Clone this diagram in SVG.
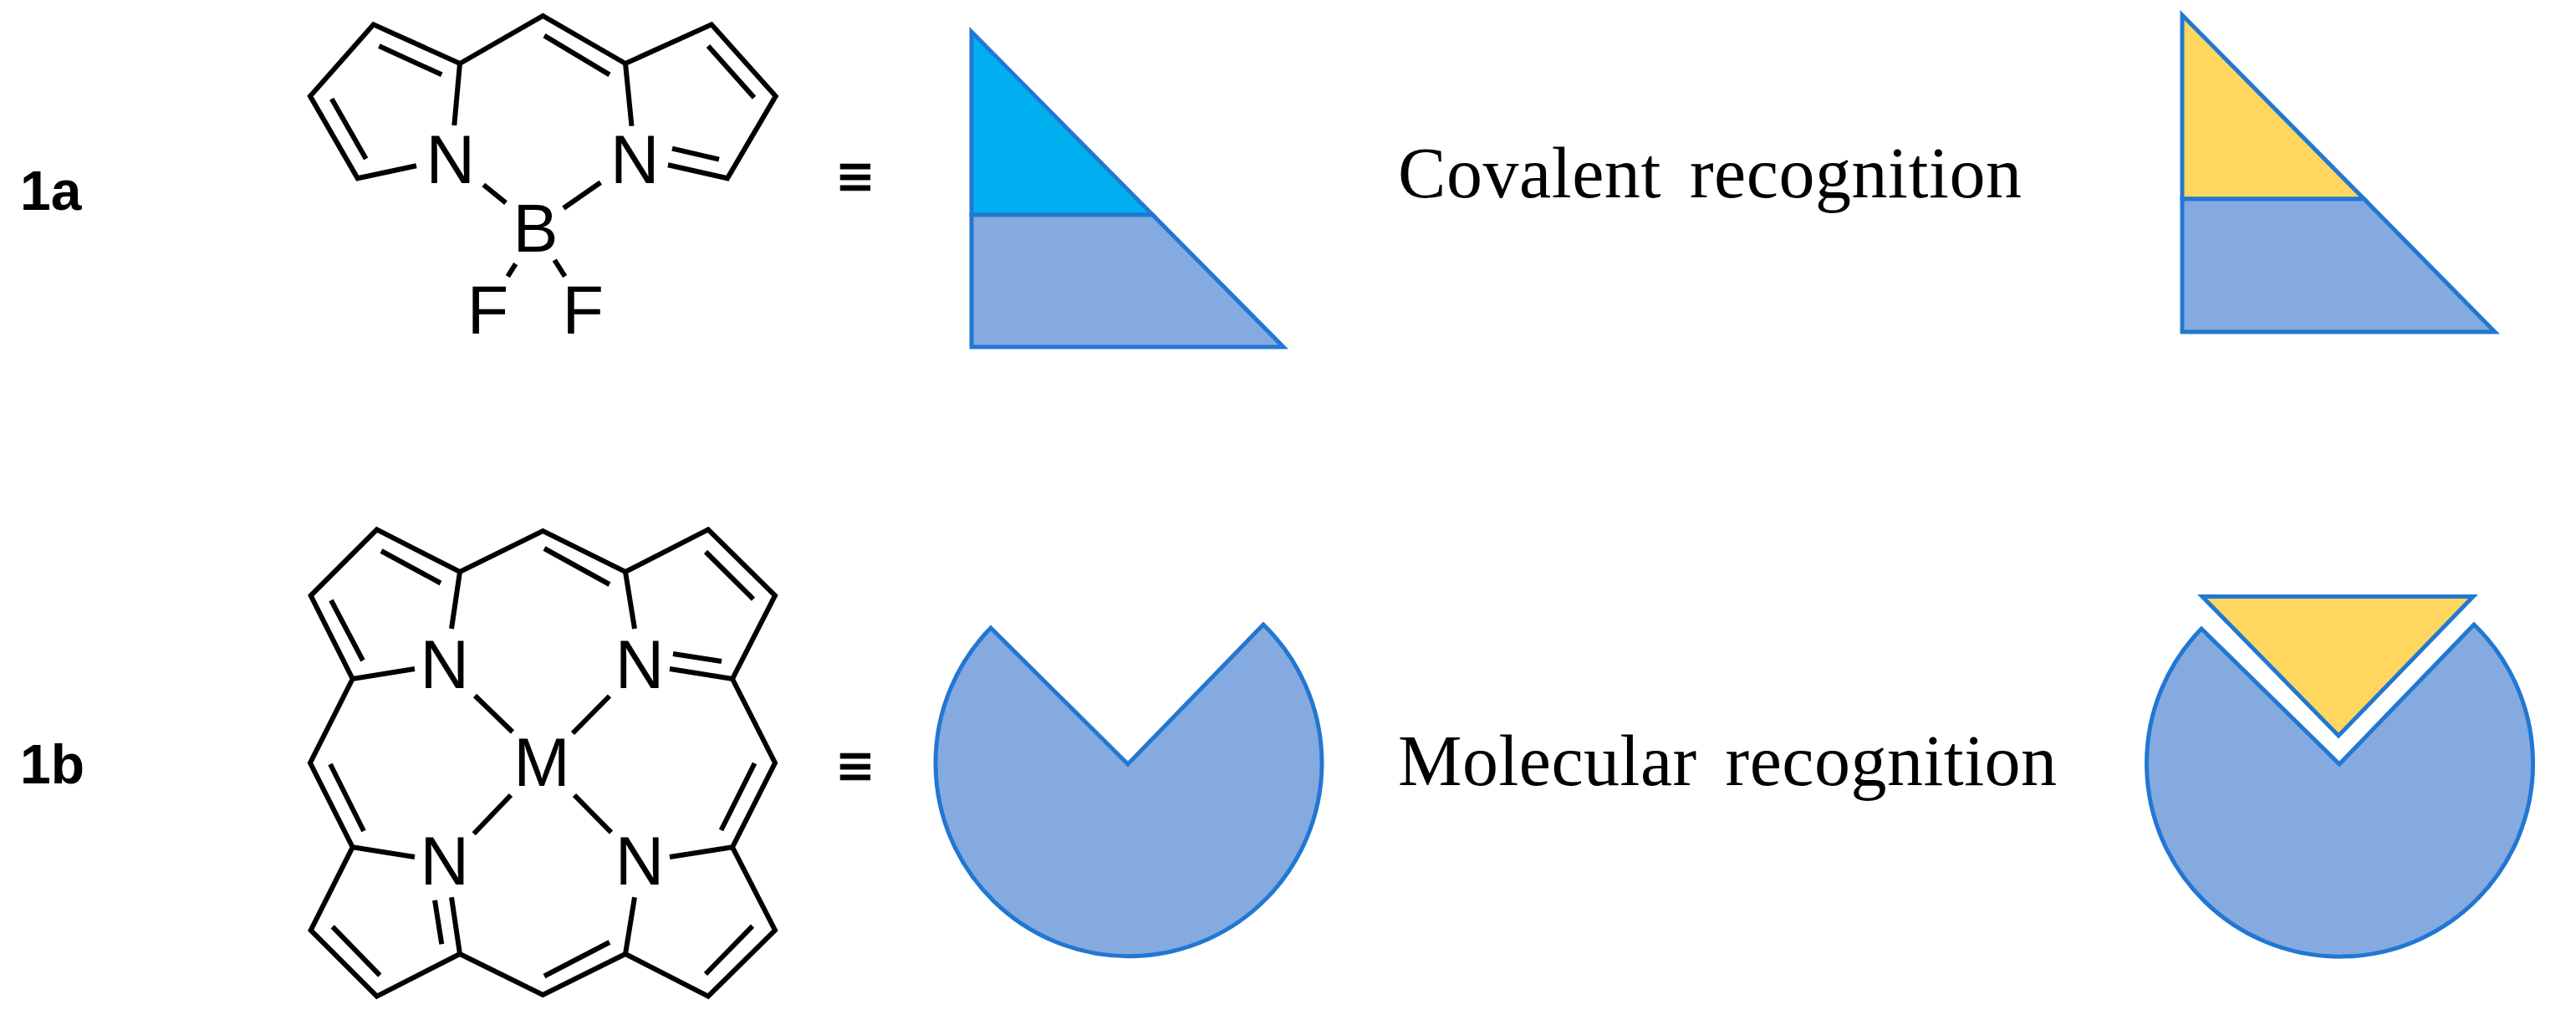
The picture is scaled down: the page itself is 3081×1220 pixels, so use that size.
<svg xmlns="http://www.w3.org/2000/svg" width="3081" height="1220" viewBox="0 0 3081 1220">
<style>
.bond{fill:none;stroke:#000;stroke-width:6;stroke-linejoin:miter;stroke-linecap:butt}
.atom{font-family:"Liberation Sans",Arial,sans-serif;font-size:81px;fill:#000;text-anchor:middle}
.eq{font-family:"DejaVu Sans",sans-serif;font-size:70px;fill:#000;stroke:#000;stroke-width:1;text-anchor:middle}
.lab{font-family:"Liberation Sans",Arial,sans-serif;font-size:66px;font-weight:bold;fill:#000}
.cap{font-family:"Liberation Serif","Times New Roman",serif;font-size:86px;fill:#000}
.sh{stroke:#2277D2;stroke-width:5;stroke-linejoin:miter}
.blue{fill:#84AADF}.cyan{fill:#00B0F0}.yel{fill:#FFD75E}
</style>
<rect width="3081" height="1220" fill="#fff"/>
<g id="connectors">
<path class="bond" d="M498 198.300L427.700 213.300L371 115L446.700 29.300L550 76L649.300 19L748 76L851 29.300L927.700 115L870 213.300L799 197.300"/>
<path class="bond" d="M550 76L543.300 150M748 76L755.500 150.700M453.300 55L528.300 89.300M396.700 118.300L437.700 190M651 42.700L729 89.300M847 55L902 116.700M804 177.700L860 190.700M578.300 221L605 242.700M718.300 218.300L674 249M616.700 315.700L607.300 330.700M663.300 311L675.700 330.700"/>
<path class="bond" d="M496 800L421.700 812L371.700 712.300L450.700 633.300L550 684L649.300 635L748 684L847 633.300L927 712.300L876 812L801 800M421.700 812L371 912.500L421.700 1013.300L496 1025M876 812L927 912.500L876 1013.300L801 1025M540 1073.300L550 1141L450.700 1191.700L371.700 1112.700L421.700 1013.300M759 1073.300L748 1141L847 1191.700L927 1112.700L876 1013.300M550 1141L649.300 1190L748 1141M550 684L540 752M748 684L759 752"/>
<path class="bond" d="M456 659L527 697.500M396 718L434 790M651 656L729 699M844 660L901 716.600M395 914L435 994M902.500 913L862.500 993M397.700 1108.300L454.300 1166.700M651 1167.500L729 1127M844 1165L900 1107.600M805 782L863 791M520 1076.700L528.300 1129.300M568 832L613 875.500M729 832.500L685 877M611 951L566.700 997.300M687 951L731 995.600"/>
</g>
<g id="label-1a"><text class="lab" x="24" y="251">1a</text></g>
<g id="label-1b"><text class="lab" x="24" y="937">1b</text></g>
<g id="molecule-1a">
<text class="atom" x="538.800" y="218.500">N</text>
<text class="atom" x="759.300" y="218.500">N</text>
<text class="atom" x="640.500" y="301">B</text>
<text class="atom" x="583.400" y="399.300">F</text>
<text class="atom" x="697.200" y="399.300">F</text>
</g>
<g id="molecule-1b">
<text class="atom" x="531.700" y="823">N</text>
<text class="atom" x="765" y="823">N</text>
<text class="atom" x="531.700" y="1058.300">N</text>
<text class="atom" x="765" y="1058.300">N</text>
<text class="atom" x="648" y="940">M</text>
</g>
<g id="equiv-1a"><text class="eq" transform="translate(1023 234) scale(.81 1)">≡</text></g>
<g id="equiv-1b"><text class="eq" transform="translate(1023 939) scale(.81 1)">≡</text></g>
<g id="shape-1a">
<polygon class="sh cyan" points="1162,38 1162,257 1378.600,257"/>
<polygon class="sh blue" points="1162,257 1378.600,257 1535,415 1162,415"/>
</g>
<g id="caption-1a"><text class="cap" x="1672" y="236" textLength="746" lengthAdjust="spacing" word-spacing="12">Covalent recognition</text></g>
<g id="shape-1a-target">
<polygon class="sh yel" points="2610,18 2610,238 2827.500,238"/>
<polygon class="sh blue" points="2610,238 2827.500,238 2984,397 2610,397"/>
</g>
<g id="shape-1b">
<path class="sh blue" d="M1349 914L1185 751A231 231 0 1 0 1511 747Z"/>
</g>
<g id="caption-1b"><text class="cap" x="1672" y="939" textLength="788" lengthAdjust="spacing" word-spacing="12">Molecular recognition</text></g>
<g id="shape-1b-target">
<path class="sh blue" d="M2798 914L2633 752A231 231 0 1 0 2959 747Z"/>
<polygon class="sh yel" points="2634,713.500 2958,713.500 2797,880"/>
</g>
</svg>
